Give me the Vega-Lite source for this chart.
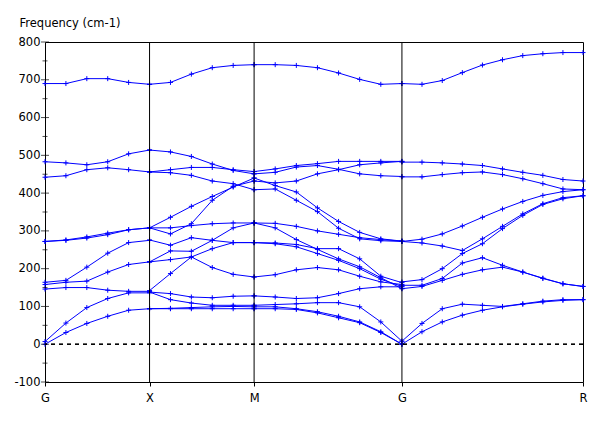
{
"$schema":"https://vega.github.io/schema/vega-lite/v6.json",
"width":538,"height":340,
"autosize":{"type":"none"},
"padding":{"left":45,"top":42,"right":25,"bottom":39},
"background":"white",
"config":{"view":{"stroke":"black","strokeWidth":1},"font":"DejaVu Sans","axis":{"labelFont":"DejaVu Sans","labelFontSize":11.5,"labelColor":"black","grid":false,"domain":false,"labelOverlap":false,"labelBound":false}},
"datasets":{
"sym":[{"k":0.5},{"k":1},{"k":1.707}],
"maj":[{"f":-100},{"f":0},{"f":100},{"f":200},{"f":300},{"f":400},{"f":500},{"f":600},{"f":700},{"f":800}],
"minr":[{"f":-50},{"f":50},{"f":150},{"f":250},{"f":350},{"f":450},{"f":550},{"f":650},{"f":750}],
"bands":[
{"s":"a1","k":0,"f":0},{"s":"a1","k":0.1,"f":31},{"s":"a1","k":0.2,"f":55},{"s":"a1","k":0.3,"f":74},{"s":"a1","k":0.4,"f":90},{"s":"a1","k":0.5,"f":94},
{"s":"a2","k":0,"f":7},{"s":"a2","k":0.1,"f":56},{"s":"a2","k":0.2,"f":97},{"s":"a2","k":0.3,"f":121},{"s":"a2","k":0.4,"f":136},{"s":"a2","k":0.5,"f":136},
{"s":"a3","k":0,"f":146},{"s":"a3","k":0.1,"f":150},{"s":"a3","k":0.2,"f":150},{"s":"a3","k":0.3,"f":143},{"s":"a3","k":0.4,"f":140},{"s":"a3","k":0.5,"f":140},
{"s":"a4","k":0,"f":158},{"s":"a4","k":0.1,"f":164},{"s":"a4","k":0.2,"f":167},{"s":"a4","k":0.3,"f":191},{"s":"a4","k":0.4,"f":211},{"s":"a4","k":0.5,"f":218},
{"s":"a5","k":0,"f":164},{"s":"a5","k":0.1,"f":169},{"s":"a5","k":0.2,"f":204},{"s":"a5","k":0.3,"f":241},{"s":"a5","k":0.4,"f":269},{"s":"a5","k":0.5,"f":275},
{"s":"a6","k":0,"f":272},{"s":"a6","k":0.1,"f":275},{"s":"a6","k":0.2,"f":281},{"s":"a6","k":0.3,"f":290},{"s":"a6","k":0.4,"f":303},{"s":"a6","k":0.5,"f":308},
{"s":"a7","k":0,"f":272},{"s":"a7","k":0.1,"f":276},{"s":"a7","k":0.2,"f":284},{"s":"a7","k":0.3,"f":294},{"s":"a7","k":0.4,"f":303},{"s":"a7","k":0.5,"f":308},
{"s":"a8","k":0,"f":442},{"s":"a8","k":0.1,"f":446},{"s":"a8","k":0.2,"f":462},{"s":"a8","k":0.3,"f":467},{"s":"a8","k":0.4,"f":462},{"s":"a8","k":0.5,"f":456},
{"s":"a9","k":0,"f":483},{"s":"a9","k":0.1,"f":480},{"s":"a9","k":0.2,"f":475},{"s":"a9","k":0.3,"f":483},{"s":"a9","k":0.4,"f":504},{"s":"a9","k":0.5,"f":514},
{"s":"a10","k":0,"f":690},{"s":"a10","k":0.1,"f":690},{"s":"a10","k":0.2,"f":703},{"s":"a10","k":0.3,"f":703},{"s":"a10","k":0.4,"f":693},{"s":"a10","k":0.5,"f":688},
{"s":"b1","k":0.5,"f":94},{"s":"b1","k":0.6,"f":94},{"s":"b1","k":0.7,"f":94},{"s":"b1","k":0.8,"f":94},{"s":"b1","k":0.9,"f":94},{"s":"b1","k":1,"f":94},
{"s":"b2","k":0.5,"f":94},{"s":"b2","k":0.6,"f":95},{"s":"b2","k":0.7,"f":97},{"s":"b2","k":0.8,"f":99},{"s":"b2","k":0.9,"f":100},{"s":"b2","k":1,"f":99},
{"s":"b3","k":0.5,"f":138},{"s":"b3","k":0.6,"f":118},{"s":"b3","k":0.7,"f":109},{"s":"b3","k":0.8,"f":103},{"s":"b3","k":0.9,"f":103},{"s":"b3","k":1,"f":103},
{"s":"b4","k":0.5,"f":138},{"s":"b4","k":0.6,"f":134},{"s":"b4","k":0.7,"f":125},{"s":"b4","k":0.8,"f":123},{"s":"b4","k":0.9,"f":127},{"s":"b4","k":1,"f":128},
{"s":"b5","k":0.5,"f":142},{"s":"b5","k":0.6,"f":187},{"s":"b5","k":0.7,"f":231},{"s":"b5","k":0.8,"f":203},{"s":"b5","k":0.9,"f":185},{"s":"b5","k":1,"f":178},
{"s":"b6","k":0.5,"f":218},{"s":"b6","k":0.6,"f":224},{"s":"b6","k":0.7,"f":231},{"s":"b6","k":0.8,"f":253},{"s":"b6","k":0.9,"f":269},{"s":"b6","k":1,"f":269},
{"s":"b7","k":0.5,"f":218},{"s":"b7","k":0.6,"f":247},{"s":"b7","k":0.7,"f":246},{"s":"b7","k":0.8,"f":275},{"s":"b7","k":0.9,"f":308},{"s":"b7","k":1,"f":321},
{"s":"b8","k":0.5,"f":276},{"s":"b8","k":0.6,"f":262},{"s":"b8","k":0.7,"f":282},{"s":"b8","k":0.8,"f":275},{"s":"b8","k":0.9,"f":269},{"s":"b8","k":1,"f":269},
{"s":"b9","k":0.5,"f":308},{"s":"b9","k":0.6,"f":336},{"s":"b9","k":0.7,"f":365},{"s":"b9","k":0.8,"f":391},{"s":"b9","k":0.9,"f":416},{"s":"b9","k":1,"f":440},
{"s":"b10","k":0.5,"f":308},{"s":"b10","k":0.6,"f":292},{"s":"b10","k":0.7,"f":319},{"s":"b10","k":0.8,"f":381},{"s":"b10","k":0.9,"f":418},{"s":"b10","k":1,"f":432},
{"s":"b11","k":0.5,"f":308},{"s":"b11","k":0.6,"f":308},{"s":"b11","k":0.7,"f":314},{"s":"b11","k":0.8,"f":319},{"s":"b11","k":0.9,"f":321},{"s":"b11","k":1,"f":321},
{"s":"b12","k":0.5,"f":456},{"s":"b12","k":0.6,"f":454},{"s":"b12","k":0.7,"f":447},{"s":"b12","k":0.8,"f":432},{"s":"b12","k":0.9,"f":425},{"s":"b12","k":1,"f":409},
{"s":"b13","k":0.5,"f":456},{"s":"b13","k":0.6,"f":462},{"s":"b13","k":0.7,"f":468},{"s":"b13","k":0.8,"f":468},{"s":"b13","k":0.9,"f":462},{"s":"b13","k":1,"f":457},
{"s":"b14","k":0.5,"f":514},{"s":"b14","k":0.6,"f":509},{"s":"b14","k":0.7,"f":497},{"s":"b14","k":0.8,"f":477},{"s":"b14","k":0.9,"f":460},{"s":"b14","k":1,"f":451},
{"s":"b15","k":0.5,"f":688},{"s":"b15","k":0.6,"f":693},{"s":"b15","k":0.7,"f":715},{"s":"b15","k":0.8,"f":732},{"s":"b15","k":0.9,"f":738},{"s":"b15","k":1,"f":740},
{"s":"c1","k":1,"f":94},{"s":"c1","k":1.101,"f":94},{"s":"c1","k":1.202,"f":92},{"s":"c1","k":1.303,"f":83},{"s":"c1","k":1.404,"f":70},{"s":"c1","k":1.505,"f":57},{"s":"c1","k":1.606,"f":31},{"s":"c1","k":1.707,"f":0},
{"s":"c2","k":1,"f":99},{"s":"c2","k":1.101,"f":99},{"s":"c2","k":1.202,"f":94},{"s":"c2","k":1.303,"f":86},{"s":"c2","k":1.404,"f":74},{"s":"c2","k":1.505,"f":59},{"s":"c2","k":1.606,"f":33},{"s":"c2","k":1.707,"f":0},
{"s":"c3","k":1,"f":103},{"s":"c3","k":1.101,"f":105},{"s":"c3","k":1.202,"f":107},{"s":"c3","k":1.303,"f":110},{"s":"c3","k":1.404,"f":110},{"s":"c3","k":1.505,"f":99},{"s":"c3","k":1.606,"f":59},{"s":"c3","k":1.707,"f":8},
{"s":"c4","k":1,"f":128},{"s":"c4","k":1.101,"f":125},{"s":"c4","k":1.202,"f":121},{"s":"c4","k":1.303,"f":123},{"s":"c4","k":1.404,"f":134},{"s":"c4","k":1.505,"f":147},{"s":"c4","k":1.606,"f":152},{"s":"c4","k":1.707,"f":152},
{"s":"c5","k":1,"f":178},{"s":"c5","k":1.101,"f":184},{"s":"c5","k":1.202,"f":197},{"s":"c5","k":1.303,"f":203},{"s":"c5","k":1.404,"f":197},{"s":"c5","k":1.505,"f":180},{"s":"c5","k":1.606,"f":165},{"s":"c5","k":1.707,"f":158},
{"s":"c6","k":1,"f":269},{"s":"c6","k":1.101,"f":268},{"s":"c6","k":1.202,"f":264},{"s":"c6","k":1.303,"f":253},{"s":"c6","k":1.404,"f":253},{"s":"c6","k":1.505,"f":226},{"s":"c6","k":1.606,"f":180},{"s":"c6","k":1.707,"f":163},
{"s":"c7","k":1,"f":269},{"s":"c7","k":1.101,"f":266},{"s":"c7","k":1.202,"f":258},{"s":"c7","k":1.303,"f":240},{"s":"c7","k":1.404,"f":222},{"s":"c7","k":1.505,"f":200},{"s":"c7","k":1.606,"f":172},{"s":"c7","k":1.707,"f":153},
{"s":"c8","k":1,"f":321},{"s":"c8","k":1.101,"f":308},{"s":"c8","k":1.202,"f":277},{"s":"c8","k":1.303,"f":251},{"s":"c8","k":1.404,"f":226},{"s":"c8","k":1.505,"f":205},{"s":"c8","k":1.606,"f":176},{"s":"c8","k":1.707,"f":147},
{"s":"c9","k":1,"f":321},{"s":"c9","k":1.101,"f":320},{"s":"c9","k":1.202,"f":312},{"s":"c9","k":1.303,"f":300},{"s":"c9","k":1.404,"f":291},{"s":"c9","k":1.505,"f":282},{"s":"c9","k":1.606,"f":277},{"s":"c9","k":1.707,"f":273},
{"s":"c10","k":1,"f":409},{"s":"c10","k":1.101,"f":411},{"s":"c10","k":1.202,"f":381},{"s":"c10","k":1.303,"f":351},{"s":"c10","k":1.404,"f":307},{"s":"c10","k":1.505,"f":279},{"s":"c10","k":1.606,"f":274},{"s":"c10","k":1.707,"f":272},
{"s":"c11","k":1,"f":440},{"s":"c11","k":1.101,"f":420},{"s":"c11","k":1.202,"f":403},{"s":"c11","k":1.303,"f":361},{"s":"c11","k":1.404,"f":325},{"s":"c11","k":1.505,"f":296},{"s":"c11","k":1.606,"f":279},{"s":"c11","k":1.707,"f":273},
{"s":"c12","k":1,"f":432},{"s":"c12","k":1.101,"f":427},{"s":"c12","k":1.202,"f":432},{"s":"c12","k":1.303,"f":451},{"s":"c12","k":1.404,"f":462},{"s":"c12","k":1.505,"f":475},{"s":"c12","k":1.606,"f":480},{"s":"c12","k":1.707,"f":484},
{"s":"c13","k":1,"f":451},{"s":"c13","k":1.101,"f":455},{"s":"c13","k":1.202,"f":469},{"s":"c13","k":1.303,"f":473},{"s":"c13","k":1.404,"f":463},{"s":"c13","k":1.505,"f":451},{"s":"c13","k":1.606,"f":446},{"s":"c13","k":1.707,"f":444},
{"s":"c14","k":1,"f":457},{"s":"c14","k":1.101,"f":464},{"s":"c14","k":1.202,"f":473},{"s":"c14","k":1.303,"f":478},{"s":"c14","k":1.404,"f":484},{"s":"c14","k":1.505,"f":484},{"s":"c14","k":1.606,"f":484},{"s":"c14","k":1.707,"f":484},
{"s":"c15","k":1,"f":740},{"s":"c15","k":1.101,"f":740},{"s":"c15","k":1.202,"f":738},{"s":"c15","k":1.303,"f":732},{"s":"c15","k":1.404,"f":718},{"s":"c15","k":1.505,"f":701},{"s":"c15","k":1.606,"f":688},{"s":"c15","k":1.707,"f":690},
{"s":"d1","k":1.707,"f":0},{"s":"d1","k":1.803,"f":33},{"s":"d1","k":1.9,"f":59},{"s":"d1","k":1.996,"f":77},{"s":"d1","k":2.092,"f":90},{"s":"d1","k":2.188,"f":99},{"s":"d1","k":2.285,"f":106},{"s":"d1","k":2.381,"f":112},{"s":"d1","k":2.477,"f":116},{"s":"d1","k":2.573,"f":118},
{"s":"d2","k":1.707,"f":8},{"s":"d2","k":1.803,"f":55},{"s":"d2","k":1.9,"f":94},{"s":"d2","k":1.996,"f":106},{"s":"d2","k":2.092,"f":103},{"s":"d2","k":2.188,"f":100},{"s":"d2","k":2.285,"f":107},{"s":"d2","k":2.381,"f":114},{"s":"d2","k":2.477,"f":118},{"s":"d2","k":2.573,"f":118},
{"s":"d3","k":1.707,"f":147},{"s":"d3","k":1.803,"f":153},{"s":"d3","k":1.9,"f":169},{"s":"d3","k":1.996,"f":185},{"s":"d3","k":2.092,"f":197},{"s":"d3","k":2.188,"f":204},{"s":"d3","k":2.285,"f":191},{"s":"d3","k":2.381,"f":175},{"s":"d3","k":2.477,"f":160},{"s":"d3","k":2.573,"f":153},
{"s":"d4","k":1.707,"f":156},{"s":"d4","k":1.803,"f":156},{"s":"d4","k":1.9,"f":174},{"s":"d4","k":1.996,"f":215},{"s":"d4","k":2.092,"f":229},{"s":"d4","k":2.188,"f":209},{"s":"d4","k":2.285,"f":191},{"s":"d4","k":2.381,"f":174},{"s":"d4","k":2.477,"f":160},{"s":"d4","k":2.573,"f":153},
{"s":"d5","k":1.707,"f":165},{"s":"d5","k":1.803,"f":171},{"s":"d5","k":1.9,"f":200},{"s":"d5","k":1.996,"f":240},{"s":"d5","k":2.092,"f":266},{"s":"d5","k":2.188,"f":306},{"s":"d5","k":2.285,"f":341},{"s":"d5","k":2.381,"f":370},{"s":"d5","k":2.477,"f":385},{"s":"d5","k":2.573,"f":393},
{"s":"d6","k":1.707,"f":272},{"s":"d6","k":1.803,"f":268},{"s":"d6","k":1.9,"f":260},{"s":"d6","k":1.996,"f":248},{"s":"d6","k":2.092,"f":279},{"s":"d6","k":2.188,"f":312},{"s":"d6","k":2.285,"f":345},{"s":"d6","k":2.381,"f":372},{"s":"d6","k":2.477,"f":388},{"s":"d6","k":2.573,"f":393},
{"s":"d7","k":1.707,"f":272},{"s":"d7","k":1.803,"f":278},{"s":"d7","k":1.9,"f":292},{"s":"d7","k":1.996,"f":313},{"s":"d7","k":2.092,"f":336},{"s":"d7","k":2.188,"f":358},{"s":"d7","k":2.285,"f":378},{"s":"d7","k":2.381,"f":394},{"s":"d7","k":2.477,"f":404},{"s":"d7","k":2.573,"f":409},
{"s":"d8","k":1.707,"f":443},{"s":"d8","k":1.803,"f":443},{"s":"d8","k":1.9,"f":449},{"s":"d8","k":1.996,"f":454},{"s":"d8","k":2.092,"f":456},{"s":"d8","k":2.188,"f":449},{"s":"d8","k":2.285,"f":438},{"s":"d8","k":2.381,"f":425},{"s":"d8","k":2.477,"f":411},{"s":"d8","k":2.573,"f":409},
{"s":"d9","k":1.707,"f":482},{"s":"d9","k":1.803,"f":482},{"s":"d9","k":1.9,"f":480},{"s":"d9","k":1.996,"f":477},{"s":"d9","k":2.092,"f":473},{"s":"d9","k":2.188,"f":464},{"s":"d9","k":2.285,"f":455},{"s":"d9","k":2.381,"f":447},{"s":"d9","k":2.477,"f":436},{"s":"d9","k":2.573,"f":432},
{"s":"d10","k":1.707,"f":690},{"s":"d10","k":1.803,"f":688},{"s":"d10","k":1.9,"f":698},{"s":"d10","k":1.996,"f":719},{"s":"d10","k":2.092,"f":739},{"s":"d10","k":2.188,"f":753},{"s":"d10","k":2.285,"f":764},{"s":"d10","k":2.381,"f":769},{"s":"d10","k":2.477,"f":772},{"s":"d10","k":2.573,"f":772}
]},
"layer":[
{"data":{"name":"bands"},"mark":{"type":"line","color":"#0000ff","strokeWidth":1},
 "encoding":{
  "x":{"field":"k","type":"quantitative","scale":{"domain":[0,2.573],"nice":false,"zero":false},
   "axis":{"values":[0,0.5,1,1.707,2.573],"tickCount":20,"labelExpr":"datum.value < 0.25 ? 'G' : datum.value < 0.75 ? 'X' : datum.value < 1.3 ? 'M' : datum.value < 2 ? 'G' : 'R'","tickSize":4,"tickColor":"black","labelPadding":6,"labelFlush":false,"labelOverlap":false,"title":null}},
  "y":{"field":"f","type":"quantitative","scale":{"domain":[-100,800],"nice":false,"zero":false},
   "axis":{"values":[-100,0,100,200,300,400,500,600,700,800],"tickCount":20,"labelExpr":"datum.value < 0 ? '-' + abs(datum.value) : '' + datum.value","labelOverlap":false,"labelFlush":false,"ticks":false,"tickSize":0,"labelPadding":5,"title":"Frequency (cm-1)","titleAngle":0,"titleAlign":"left","titleBaseline":"alphabetic","titleX":-26,"titleY":-16,"titleFontWeight":"normal","titleFontSize":11.5,"titleFont":"DejaVu Sans","titleColor":"black"}},
  "detail":{"field":"s","type":"nominal"}}},
{"data":{"name":"bands"},"mark":{"type":"point","shape":"M-1,0H1M0,-1V1","filled":false,"color":"#0000ff","strokeWidth":1,"size":25,"opacity":1},
 "encoding":{"x":{"field":"k","type":"quantitative"},"y":{"field":"f","type":"quantitative"}}},
{"data":{"name":"sym"},"mark":{"type":"rule","color":"black","strokeWidth":1},
 "encoding":{"x":{"field":"k","type":"quantitative"}}},
{"data":{"name":"sym"},"mark":{"type":"rule","color":"black","strokeWidth":1,"strokeDash":[4,4]},
 "encoding":{"y":{"datum":0,"type":"quantitative"}}},
{"data":{"name":"maj"},"mark":{"type":"tick","orient":"horizontal","size":8,"thickness":1,"color":"black"},
 "encoding":{"x":{"datum":0,"type":"quantitative"},"y":{"field":"f","type":"quantitative"}}},
{"data":{"name":"minr"},"mark":{"type":"tick","orient":"horizontal","size":5,"thickness":1,"color":"black"},
 "encoding":{"x":{"datum":0,"type":"quantitative"},"y":{"field":"f","type":"quantitative"}}}
]
}
